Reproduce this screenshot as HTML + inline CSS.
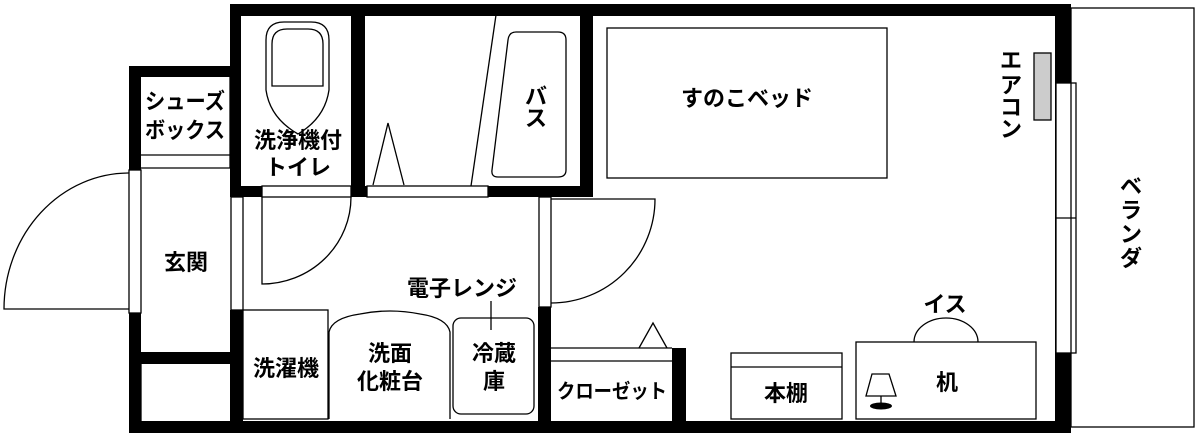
<!DOCTYPE html>
<html><head><meta charset="utf-8"><style>
html,body{margin:0;padding:0;background:#fff;}
svg{display:block;}
text{font-family:"Liberation Sans","Noto Sans CJK JP",sans-serif;font-size:22px;fill:#000;font-weight:bold;}
</style></head><body>
<svg width="1200" height="436" viewBox="0 0 1200 436" xmlns="http://www.w3.org/2000/svg">
<rect width="1200" height="436" fill="#fff"/>
<g fill="#000">
<rect x="230" y="4" width="841" height="12"/>
<rect x="230" y="4" width="11" height="193"/>
<rect x="351" y="4" width="14" height="193"/>
<rect x="580" y="4" width="13" height="193"/>
<rect x="230" y="186" width="363" height="11"/>
<rect x="129" y="66" width="112" height="11"/>
<rect x="129" y="66" width="12" height="104"/>
<rect x="129" y="313" width="12" height="120"/>
<rect x="129" y="352" width="112" height="12"/>
<rect x="230" y="310" width="13" height="123"/>
<rect x="129" y="421" width="942" height="12"/>
<rect x="538" y="307" width="13" height="126"/>
<rect x="672" y="348" width="14" height="85"/>
<rect x="1055" y="4" width="16" height="429"/>
</g>
<g fill="#fff" stroke="#000" stroke-width="1.3">
<rect x="262" y="186" width="89" height="11"/>
<rect x="367" y="186" width="121" height="11"/>
<rect x="129" y="170" width="12" height="143"/>
<rect x="231" y="197" width="12" height="113"/>
<rect x="539" y="197" width="12" height="110"/>
<rect x="1056" y="83" width="20" height="270"/>
</g>
<g fill="none" stroke="#000" stroke-width="1.3">
<line x1="1056" y1="218" x2="1076" y2="218"/>
<rect x="1071" y="8" width="123" height="419"/>
<line x1="141" y1="155" x2="230" y2="155"/>
<line x1="141" y1="168" x2="230" y2="168"/>
<line x1="230" y1="77" x2="230" y2="168"/>
<line x1="141" y1="364" x2="141" y2="421"/>
<path d="M129 309 L4 309 A125 136 0 0 1 129 173"/>
<path d="M266 40 Q266 22 284 22 L311 22 Q329 22 329 40 L329 90 Q325 118 298 134 Q270 118 266 90 Z"/>
<path d="M272 44 Q272 29 287 29 L308 29 Q323 29 323 44 L323 86 L272 86 Z"/>
<path d="M262 197 L262 284 A89 87 0 0 0 351 197"/>
<line x1="496" y1="15" x2="471" y2="186"/>
<path d="M516 32 L558 32 Q566 32 566 40 L566 170 Q566 177 558 177 L498 177 Q491 177 492 170 L508 40 Q509 32 516 32 Z"/>
<path d="M373 185 L388 123 L404 185"/>
<path d="M551 199 L655 199 A104 104 0 0 1 551 303"/>
<rect x="607" y="28" width="280" height="150"/>
<rect x="243" y="310" width="85" height="109"/>
<path d="M329 419 L329 332 Q332 318 360 314 Q390 308 420 314 Q447 318 450 332 L450 419"/>
<rect x="453" y="318" width="81" height="96" rx="8"/>
<line x1="491" y1="301" x2="491" y2="330"/>
<line x1="551" y1="348" x2="672" y2="348"/>
<line x1="551" y1="361" x2="672" y2="361"/>
<path d="M639 348 L653 323 L667 348"/>
<rect x="731" y="353" width="111" height="66"/>
<line x1="731" y1="367" x2="842" y2="367"/>
<rect x="856" y="342" width="180" height="77"/>
<path d="M914 342 A32 24 0 0 1 978 342"/>
<path d="M872 374 L889 374 L896 396 L866 396 Z"/>
<line x1="881" y1="396" x2="881" y2="404"/>
</g>
<ellipse cx="881" cy="406" rx="11" ry="3.5" fill="#000"/>
<rect x="1034" y="53" width="17" height="67" fill="#ccc" stroke="#000" stroke-width="1.3"/>
<text x="185" y="109" text-anchor="middle" textLength="80" lengthAdjust="spacingAndGlyphs">シューズ</text>
<text x="185" y="138" text-anchor="middle" textLength="80" lengthAdjust="spacingAndGlyphs">ボックス</text>
<text x="298" y="148" text-anchor="middle">洗浄機付</text>
<text x="298" y="175" text-anchor="middle">トイレ</text>
<text x="186" y="270" text-anchor="middle">玄関</text>
<text x="536" y="104" text-anchor="middle">バ</text>
<text x="536" y="126" text-anchor="middle">ス</text>
<text x="747" y="106" text-anchor="middle">すのこベッド</text>
<text x="462" y="296" text-anchor="middle">電子レンジ</text>
<text x="286" y="376" text-anchor="middle">洗濯機</text>
<text x="390" y="361" text-anchor="middle">洗面</text>
<text x="390" y="389" text-anchor="middle">化粧台</text>
<text x="494" y="361" text-anchor="middle">冷蔵</text>
<text x="494" y="389" text-anchor="middle">庫</text>
<text x="612" y="398" text-anchor="middle" textLength="110" lengthAdjust="spacingAndGlyphs" style="font-size:20px">クローゼット</text>
<text x="786" y="401" text-anchor="middle">本棚</text>
<text x="947" y="390" text-anchor="middle">机</text>
<text x="945" y="312" text-anchor="middle">イス</text>
<text x="1011" y="68" text-anchor="middle">エ</text>
<text x="1011" y="93" text-anchor="middle">ア</text>
<text x="1011" y="115" text-anchor="middle">コ</text>
<text x="1011" y="137" text-anchor="middle">ン</text>
<text x="1131" y="194" text-anchor="middle">ベ</text>
<text x="1131" y="218" text-anchor="middle">ラ</text>
<text x="1131" y="242" text-anchor="middle">ン</text>
<text x="1131" y="266" text-anchor="middle">ダ</text>
</svg>
</body></html>
